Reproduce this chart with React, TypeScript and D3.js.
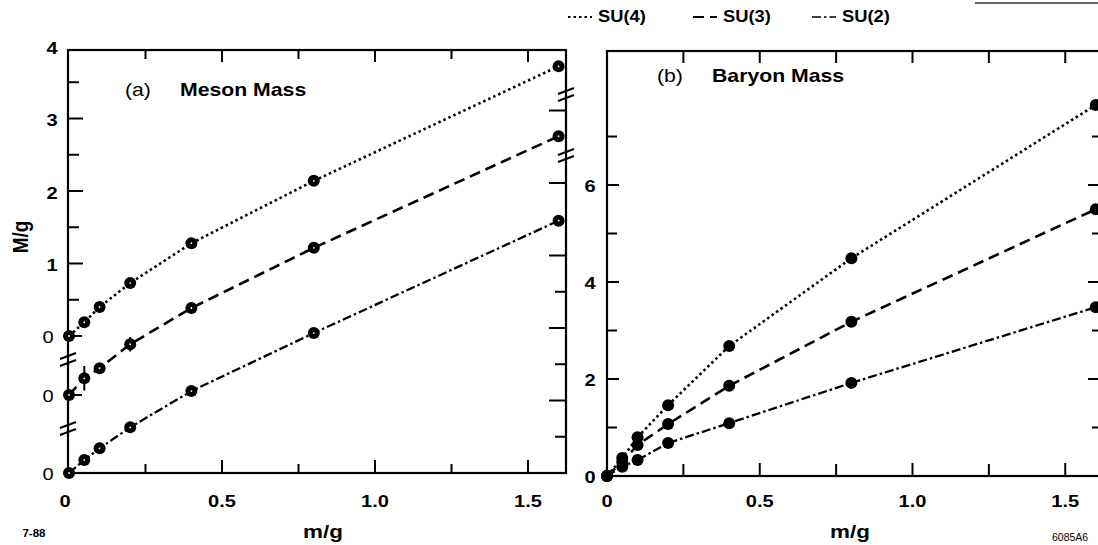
import React from 'react';
import * as d3 from 'd3';

// ---------- data ----------
const massRatios = [0, 0.05, 0.1, 0.2, 0.4, 0.8, 1.6];
const seriesNames = ['SU(4)', 'SU(3)', 'SU(2)'];
const mesonSU4 = [0, 0.19, 0.4, 0.73, 1.28, 2.14, 3.72];
const mesonSU3 = [0, 0.23, 0.37, 0.7, 1.2, 2.03, 3.57];
const mesonSU2 = [0, 0.18, 0.34, 0.63, 1.13, 1.93, 3.48];
const mesonSU4Err = [0, 0, 0, 0, 0.05, 0, 0];
const mesonSU3Err = [0, 0.17, 0, 0.1, 0.07, 0, 0];
const baryonSU4 = [0, 0.37, 0.8, 1.46, 2.68, 4.49, 7.65];
const baryonSU3 = [0, 0.29, 0.64, 1.07, 1.86, 3.18, 5.5];
const baryonSU2 = [0, 0.19, 0.33, 0.68, 1.09, 1.92, 3.48];
const xMinorTicks = [0.25, 0.75, 1.25];
const xMajorTicks = [0.5, 1.0, 1.5];
const xTickLabels = ['0', '0.5', '1.0', '1.5'];
const xTickLabelValues = [0, 0.5, 1.0, 1.5];
const mesonYTickValues = [1, 2, 3, 4];
const mesonYTickLabels = ['1', '2', '3', '4'];
const mesonMinorTicks = [0.5, 1.5, 2.5, 3.5];
const mesonRightMajor = [1, 2, 3, 4, 5];
const mesonRightMinor = [0.5, 1.5, 2.5];
const baryonYTickValues = [0, 2, 4, 6];
const baryonYTickLabels = ['0', '2', '4', '6'];
const baryonMinorTicks = [1, 3, 5, 7];

// ---------- styles ----------
const FONT = '"Liberation Sans", Arial, Helvetica, sans-serif';
const SX = 1.18;
const dashes = ['2.5,3', '11,6', '9,3,2.5,3'];
const widths = [2.6, 2.6, 2.3];

function T({ x, y, children, size = 17, anchor = 'middle', weight = 'bold', sx = SX }: any) {
  return (
    <text
      transform={`translate(${x},${y}) scale(${sx},1)`}
      textAnchor={anchor}
      fontSize={size}
      fontWeight={weight}
      fontFamily={FONT}
      fill="#000"
      dominantBaseline="central"
    >
      {children}
    </text>
  );
}

function Break({ cx, cy }: { cx: number; cy: number }) {
  return (
    <g stroke="#000" strokeWidth={2}>
      <line x1={cx - 8} y1={cy - 1} x2={cx + 8} y2={cy - 7} />
      <line x1={cx - 8} y1={cy + 6} x2={cx + 8} y2={cy} />
    </g>
  );
}

export default function App() {
  // panel (a)
  const aL = 68, aR = 566, aT = 50, aB = 473;
  const xA = d3.scaleLinear().domain([0, 1.6]).range([69, 69 + 1.6 * 306]);
  const zeroA = [336, 395, 473];
  const yA = zeroA.map((z) => d3.scaleLinear().domain([0, 1]).range([z, z - 72.5]));
  const mesons = [mesonSU4, mesonSU3, mesonSU2];
  const mesonErr = [mesonSU4Err, mesonSU3Err, null];

  // panel (b)
  const bL = 607, bR = 1103, bT = 51, bB = 476;
  const xB = d3.scaleLinear().domain([0, 1.6]).range([607, 607 + 1.6 * 305.5]);
  const yB = d3.scaleLinear().domain([0, 8]).range([476, 476 - 8 * 48.5]);
  const baryons = [baryonSU4, baryonSU3, baryonSU2];

  const lineA = (i: number) =>
    d3
      .line<number>()
      .x((_, k) => xA(massRatios[k]))
      .y((v) => yA[i](v))(mesons[i]) || '';
  const lineB = (i: number) =>
    d3
      .line<number>()
      .x((_, k) => xB(massRatios[k]))
      .y((v) => yB(v))(baryons[i]) || '';

  return (
    <svg
      width={1098}
      height={545}
      style={{ position: 'absolute', left: 0, top: 0, background: '#fff' }}
    >
      <rect x={0} y={0} width={1098} height={545} fill="#fff" />
      {/* top-right stray line */}
      <line x1={975} y1={3} x2={1098} y2={3} stroke="#333" strokeWidth={1.5} />

      {/* legend */}
      {seriesNames.map((name, i) => {
        const lx = [568, 693, 812][i];
        return (
          <g key={name}>
            <line
              x1={lx}
              y1={17}
              x2={lx + 24}
              y2={17}
              stroke="#000"
              strokeWidth={widths[i] - 0.6}
              strokeDasharray={dashes[i]}
            />
            <T x={lx + 30} y={16} anchor="start" size={17} sx={1.08}>
              {name}
            </T>
          </g>
        );
      })}

      {/* ---------- panel (a) ---------- */}
      <rect x={aL} y={aT} width={aR - aL} height={aB - aT} fill="none" stroke="#000" strokeWidth={2.2} />
      {xMajorTicks.map((t) => (
        <g key={'am' + t} stroke="#000" strokeWidth={2}>
          <line x1={xA(t)} y1={aB} x2={xA(t)} y2={aB - 13} />
          <line x1={xA(t)} y1={aT} x2={xA(t)} y2={aT + 12} />
        </g>
      ))}
      {xMinorTicks.map((t) => (
        <g key={'an' + t} stroke="#000" strokeWidth={2}>
          <line x1={xA(t)} y1={aB} x2={xA(t)} y2={aB - 9} />
          <line x1={xA(t)} y1={aT} x2={xA(t)} y2={aT + 9} />
        </g>
      ))}
      {mesonYTickValues.slice(0, 3).map((t) => (
        <line key={'ayl' + t} x1={aL} x2={aL + 15} y1={yA[0](t)} y2={yA[0](t)} stroke="#000" strokeWidth={2} />
      ))}
      {mesonMinorTicks.map((t) => (
        <line key={'ayn' + t} x1={aL} x2={aL + 11} y1={yA[0](t)} y2={yA[0](t)} stroke="#000" strokeWidth={2} />
      ))}
      {[0, 1].map((i) => (
        <line key={'az' + i} x1={aL} x2={aL + 14} y1={yA[i](0)} y2={yA[i](0)} stroke="#000" strokeWidth={2} />
      ))}
      {mesonRightMajor.map((t) => (
        <line key={'arm' + t} x1={aR} x2={aR - 17} y1={yA[2](t)} y2={yA[2](t)} stroke="#000" strokeWidth={2} />
      ))}
      {mesonRightMinor.map((t) => (
        <line key={'arn' + t} x1={aR} x2={aR - 11} y1={yA[2](t)} y2={yA[2](t)} stroke="#000" strokeWidth={2} />
      ))}
      <Break cx={aL} cy={360} />
      <Break cx={aL} cy={429} />
      <Break cx={aR} cy={95} />
      <Break cx={aR} cy={156} />

      {mesons.map((vals, i) => (
        <g key={'sa' + i}>
          <path d={lineA(i)} fill="none" stroke="#000" strokeWidth={widths[i]} strokeDasharray={dashes[i]} />
          {mesonErr[i] &&
            vals.map((v, k) =>
              mesonErr[i]![k] > 0 ? (
                <line
                  key={'e' + k}
                  x1={xA(massRatios[k])}
                  x2={xA(massRatios[k])}
                  y1={yA[i](v - mesonErr[i]![k])}
                  y2={yA[i](v + mesonErr[i]![k])}
                  stroke="#000"
                  strokeWidth={2}
                />
              ) : null
            )}
          {vals.map((v, k) => (
            <g key={'p' + k}>
              <circle cx={xA(massRatios[k])} cy={yA[i](v)} r={6} fill="#000" />
              <circle cx={xA(massRatios[k])} cy={yA[i](v)} r={0.9} fill="#fff" />
            </g>
          ))}
        </g>
      ))}

      {mesonYTickValues.map((t, k) => (
        <T key={'ayt' + t} x={52} y={yA[0](t) + 2}>
          {mesonYTickLabels[k]}
        </T>
      ))}
      {zeroA.map((z, k) => (
        <T key={'a0' + k} x={48} y={z + 1} weight="normal">
          0
        </T>
      ))}
      {xTickLabelValues.map((t, k) => (
        <T key={'axt' + t} x={k === 0 ? 65 : xA(t)} y={501}>
          {xTickLabels[k]}
        </T>
      ))}
      <T x={323} y={531} size={19}>m/g</T>
      <text
        transform="translate(20,237) rotate(-90) scale(1,1.15)"
        textAnchor="middle"
        dominantBaseline="central"
        fontSize={19}
        fontWeight="bold"
        fontFamily={FONT}
      >
        M/g
      </text>
      <T x={125} y={90} anchor="start" size={18} weight="normal">(a)</T>
      <T x={180} y={90} anchor="start" size={18}>Meson Mass</T>
      <T x={34} y={533} size={11} sx={1.05}>7-88</T>

      {/* ---------- panel (b) ---------- */}
      <rect x={bL} y={bT} width={bR - bL} height={bB - bT} fill="none" stroke="#000" strokeWidth={2.2} />
      {xMajorTicks.map((t) => (
        <g key={'bm' + t} stroke="#000" strokeWidth={2}>
          <line x1={xB(t)} y1={bB} x2={xB(t)} y2={bB - 13} />
          <line x1={xB(t)} y1={bT} x2={xB(t)} y2={bT + 12} />
        </g>
      ))}
      {xMinorTicks.map((t) => (
        <g key={'bn' + t} stroke="#000" strokeWidth={2}>
          <line x1={xB(t)} y1={bB} x2={xB(t)} y2={bB - 12} />
          <line x1={xB(t)} y1={bT} x2={xB(t)} y2={bT + 12} />
        </g>
      ))}
      {baryonYTickValues.slice(1).map((t) => (
        <g key={'by' + t} stroke="#000" strokeWidth={2}>
          <line x1={bL} x2={bL + 12} y1={yB(t)} y2={yB(t)} />
          <line x1={bR} x2={bR - 15} y1={yB(t)} y2={yB(t)} />
        </g>
      ))}
      {baryonMinorTicks.map((t) => (
        <g key={'byn' + t} stroke="#000" strokeWidth={2}>
          <line x1={bL} x2={bL + 10} y1={yB(t)} y2={yB(t)} />
          <line x1={bR} x2={bR - 11} y1={yB(t)} y2={yB(t)} />
        </g>
      ))}
      {baryons.map((vals, i) => (
        <g key={'sb' + i}>
          <path d={lineB(i)} fill="none" stroke="#000" strokeWidth={widths[i]} strokeDasharray={dashes[i]} />
          {vals.map((v, k) => (
            <circle key={'q' + k} cx={xB(massRatios[k])} cy={yB(v)} r={6} fill="#000" />
          ))}
        </g>
      ))}
      {baryonYTickValues.map((t, k) => (
        <T key={'byt' + t} x={590} y={yB(t) + 1}>
          {baryonYTickLabels[k]}
        </T>
      ))}
      {xTickLabelValues.map((t, k) => (
        <T key={'bxt' + t} x={xB(t)} y={501}>
          {xTickLabels[k]}
        </T>
      ))}
      <T x={850} y={531} size={19}>m/g</T>
      <T x={657} y={76} anchor="start" size={18} weight="normal">(b)</T>
      <T x={712} y={76} anchor="start" size={18}>Baryon Mass</T>
      <T x={1052} y={538} anchor="start" size={10} sx={1.05} weight="normal">6085A6</T>
    </svg>
  );
}
